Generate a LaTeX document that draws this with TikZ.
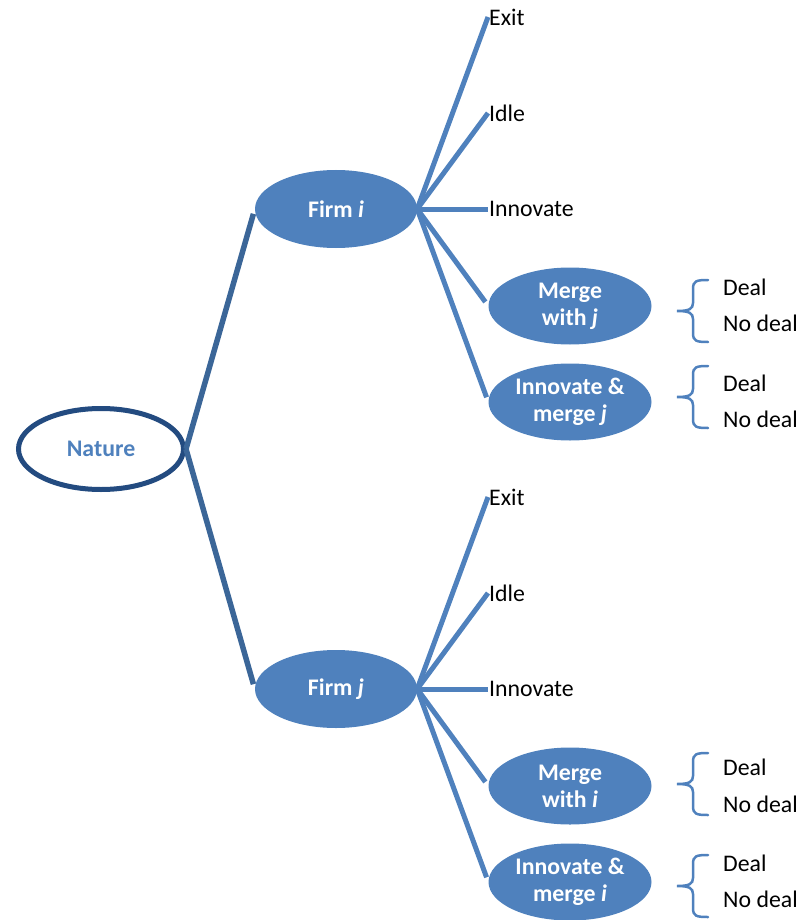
\documentclass[tikz,border=0pt]{standalone}
\usepackage{fontspec}
\setmainfont{Carlito}
\usetikzlibrary{shapes.geometric}
\definecolor{accent}{HTML}{4F81BD}
\definecolor{trunk}{HTML}{3B6698}
\definecolor{rim}{HTML}{234B80}

\tikzset{
  curlybrace/.pic={
    \draw[bracecurve] (31,-31) .. controls (19,-31) and (16,-30) .. (16,-22)
      -- (16,-8) .. controls (16,-2) and (12,0) .. (0,0)
      .. controls (12,0) and (16,2) .. (16,8)
      -- (16,22) .. controls (16,30) and (19,31) .. (31,31);
  }
}

\begin{document}
\begin{tikzpicture}[x=1pt, y=-1pt,
  every node/.style={font=\fontsize{23.8}{27}\selectfont},
  choice/.style={ellipse, fill=accent, text=white,
    font=\bfseries\fontsize{23.8}{27}\selectfont, align=center,
    inner sep=0pt, minimum width=163pt, minimum height=77pt},
  root/.style={ellipse, draw=rim, line width=5pt, fill=white, text=accent,
    font=\bfseries\fontsize{23.8}{27}\selectfont,
    inner sep=0pt, minimum width=165pt, minimum height=81pt},
  leaf/.style={anchor=west, inner sep=1pt, text=black},
  fan/.style={draw=accent, line width=5pt},
  trunkline/.style={draw=trunk, line width=5.5pt},
  bracecurve/.style={draw=accent, line width=2.5pt, line cap=round}]

\useasboundingbox (0,0) rectangle (800,920);

% root of the tree
\node[root] (nat) at (101,449) {Nature};

% the two firms
\node[choice, minimum width=162pt, minimum height=78pt] (fi) at (336,209) {Firm \textit{i}};
\node[choice, minimum width=162pt, minimum height=78pt] (fj) at (336,689) {Firm \textit{j}};

\draw[trunkline, shorten >=5pt] (nat.east) -- (fi.west);
\draw[trunkline, shorten >=5pt] (nat.east) -- (fj.west);

% choices of firm i
\node[leaf] (ei) at (488,17) {Exit};
\node[leaf] (di) at (488,113) {Idle};
\node[leaf] (ni) at (488,209) {Innovate};
\node[choice] (mi) at (570,306) {Merge\\with \textit{j}};
\node[choice] (nmi) at (570,402) {Innovate \&\\merge \textit{j}};

\draw[fan] (fi.east) -- (ei.west);
\draw[fan] (fi.east) -- (di.west);
\draw[fan] (fi.east) -- (ni.west);
\draw[fan, shorten >=5pt] (fi.east) -- (mi.west);
\draw[fan, shorten >=5pt] (fi.east) -- (nmi.west);

% choices of firm j
\node[leaf] (ej) at (488,497) {Exit};
\node[leaf] (dj) at (488,593) {Idle};
\node[leaf] (nj) at (488,689) {Innovate};
\node[choice] (mj) at (570,786) {Merge\\with \textit{i}};
\node[choice] (nmj) at (570,882) {Innovate \&\\merge \textit{i}};

\draw[fan] (fj.east) -- (ej.west);
\draw[fan] (fj.east) -- (dj.west);
\draw[fan] (fj.east) -- (nj.west);
\draw[fan, shorten >=5pt] (fj.east) -- (mj.west);
\draw[fan, shorten >=5pt] (fj.east) -- (nmj.west);

% deal outcomes after each merger offer
\pic at (677,311) {curlybrace};
\node[leaf] (d1) at (722,287) {Deal};
\node[leaf] (n1) at (722,323) {No deal};

\pic at (677,397) {curlybrace};
\node[leaf] (d2) at (722,383) {Deal};
\node[leaf] (n2) at (722,419) {No deal};

\pic at (677,784) {curlybrace};
\node[leaf] (d3) at (722,767) {Deal};
\node[leaf] (n3) at (722,804) {No deal};

\pic at (677,886) {curlybrace};
\node[leaf] (d4) at (722,863) {Deal};
\node[leaf] (n4) at (722,899) {No deal};
\end{tikzpicture}
\end{document}
